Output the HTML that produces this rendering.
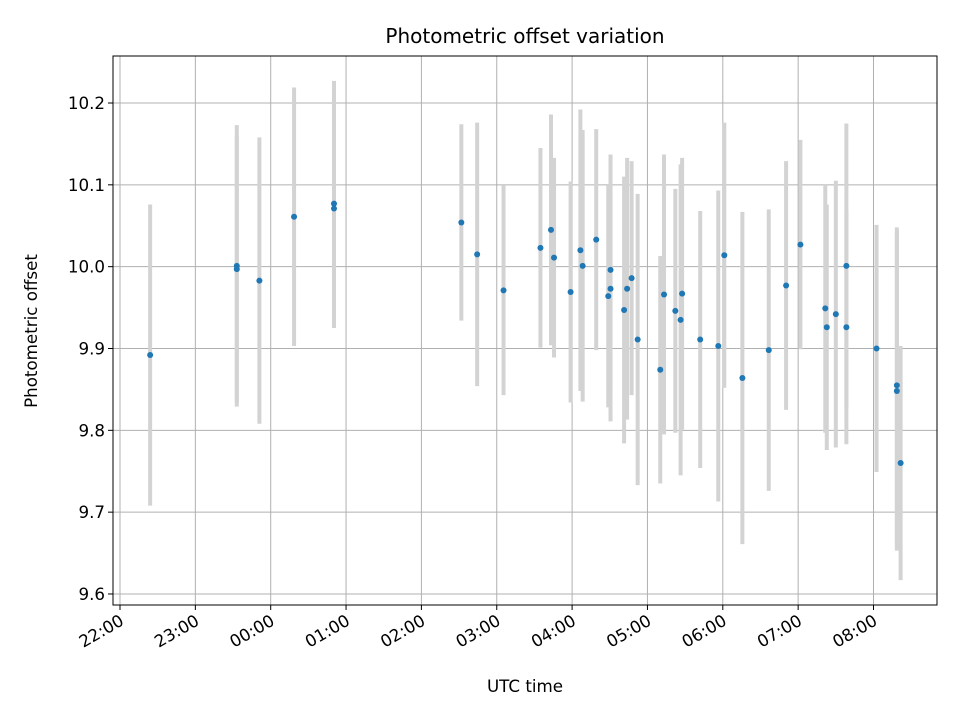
<!DOCTYPE html>
<html><head><meta charset="utf-8"><style>
html,body{margin:0;padding:0;background:#fff;}
svg text{font-family:"DejaVu Sans","Liberation Sans",sans-serif;fill:#000;}
</style></head><body>
<svg id="chart" width="960" height="720" xmlns="http://www.w3.org/2000/svg">
<rect width="960" height="720" fill="#fff"/>
<text x="525" y="43" font-size="20" text-anchor="middle">Photometric offset variation</text>
<g id="grid"></g><g id="bars"></g><g id="pts"></g><g id="axes"></g>
<text x="525" y="692" font-size="16.7" text-anchor="middle">UTC time</text>
<text transform="translate(37,331) rotate(-90)" font-size="16.7" text-anchor="middle">Photometric offset</text>
</svg>
<script>
// hours since 22:00 UTC
const times=[0.40,1.55,1.55,1.85,2.31,2.84,2.84,4.53,4.74,5.09,5.58,5.72,5.76,5.98,6.11,6.14,6.32,6.48,6.51,6.51,6.69,6.73,6.79,6.87,7.17,7.22,7.37,7.44,7.46,7.70,7.94,8.02,8.26,8.61,8.84,9.03,9.36,9.38,9.50,9.64,9.64,10.04,10.31,10.31,10.36];
const offsets=[9.892,10.001,9.997,9.983,10.061,10.077,10.071,10.054,10.015,9.971,10.023,10.045,10.011,9.969,10.020,10.001,10.033,9.964,9.996,9.973,9.947,9.973,9.986,9.911,9.874,9.966,9.946,9.935,9.967,9.911,9.903,10.014,9.864,9.898,9.977,10.027,9.949,9.926,9.942,10.001,9.926,9.900,9.855,9.848,9.760];
const errors=[0.184,0.172,0.163,0.175,0.158,0.150,0.146,0.120,0.161,0.128,0.122,0.141,0.122,0.135,0.172,0.166,0.135,0.136,0.141,0.162,0.163,0.160,0.143,0.178,0.139,0.171,0.149,0.190,0.166,0.157,0.190,0.162,0.203,0.172,0.152,0.128,0.152,0.150,0.163,0.174,0.143,0.151,0.193,0.195,0.143];
const yTicks=[9.6,9.7,9.8,9.9,10.0,10.1,10.2];
const xTickHours=[0,1,2,3,4,5,6,7,8,9,10];
const xTickLabels=["22:00","23:00","00:00","01:00","02:00","03:00","04:00","05:00","06:00","07:00","08:00"];
const L=113,R=937,T=56,B=605;
const X=h=>120+h*75.35;
const Y=v=>103+(10.2-v)*818.3;
const NS="http://www.w3.org/2000/svg";
function mk(tag,attrs,parent){const e=document.createElementNS(NS,tag);for(const k in attrs)e.setAttribute(k,attrs[k]);parent.appendChild(e);return e;}
const grid=document.getElementById('grid'),bars=document.getElementById('bars'),pts=document.getElementById('pts'),axes=document.getElementById('axes');
yTicks.forEach(v=>{
 const g=mk('line',{x1:L,x2:R,y1:Y(v),y2:Y(v),stroke:'#b0b0b0','stroke-width':1},grid);
 
 
 mk('line',{x1:L-5,x2:L,y1:Y(v),y2:Y(v),stroke:'#000'},axes);
 const t=mk('text',{x:L-8,y:Y(v)+6,'font-size':16.7,'text-anchor':'end'},axes);
 t.textContent=v.toFixed(1);
 
 
});
xTickHours.forEach((h,i)=>{
 const g=mk('line',{x1:X(h),x2:X(h),y1:T,y2:B,stroke:'#b0b0b0','stroke-width':1},grid);
 
 
 mk('line',{x1:X(h),x2:X(h),y1:B,y2:B+5,stroke:'#000'},axes);
 const t=mk('text',{x:X(h)+5,y:B+19,'font-size':16.7,'text-anchor':'end',transform:`rotate(-30 ${X(h)+5} ${B+19})`},axes);
 t.textContent=xTickLabels[i];
 
 
});
const fr=mk('rect',{x:L,y:T,width:R-L,height:B-T,fill:'none',stroke:'#000','stroke-width':1},axes);


times.forEach((h,i)=>{
 const b=mk('line',{x1:X(h),x2:X(h),y1:Y(offsets[i]+errors[i]),y2:Y(offsets[i]-errors[i]),stroke:'#d3d3d3','stroke-width':4},bars);
 
 
 const p=mk('circle',{cx:X(h),cy:Y(offsets[i]),r:3,fill:'#1f77b4'},pts);
 
 
});
</script>
</body></html>
